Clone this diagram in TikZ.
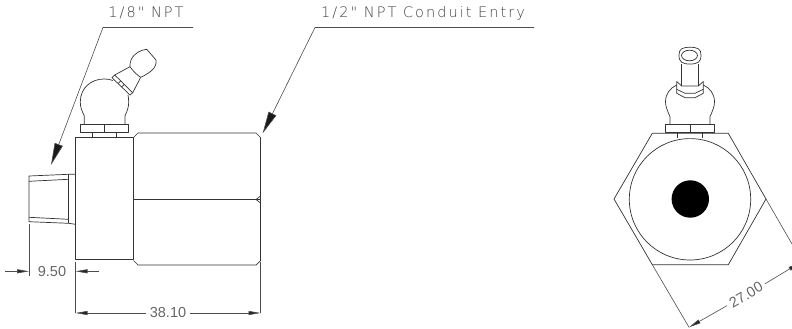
\documentclass[tikz,border=0pt]{standalone}
\usepackage{fontspec}
\setmainfont{Liberation Sans}
\newfontfamily\cadfont[LetterSpace=14]{DejaVu Sans ExtraLight}
\usetikzlibrary{arrows.meta}
\begin{document}
\begin{tikzpicture}[x=1pt,y=-1pt,
  part/.style={draw=black!80,line width=0.7pt,line join=round},
  thinline/.style={draw=black!70,line width=0.6pt},
  leadertip/.style={-{Triangle[length=22pt,width=8.5pt,fill=black!90]}},
  dimtip/.style={-{Triangle[length=12pt,width=4pt,fill=black!85]}},
  cadlabel/.style={text=black!75,font=\cadfont\fontsize{14.5}{16}\selectfont,inner sep=0pt},
  dimlabel/.style={text=black!60,font=\fontsize{14.5}{16}\selectfont,inner sep=0pt}]
\useasboundingbox (0,0) rectangle (792,329);
% side view
\draw[part] (75.5,137.5) rectangle (133.5,259.5);
\draw[part] (133.5,137.5)--(138,133)--(256,133)--(260.5,137.5)--(260.5,260.5)--(256,265)--(138,265)--(133.5,260.5);
\draw[part] (133.5,199.5)--(260.5,199.5);
\draw[part] (260.5,196)--(256,199.5)--(260.5,203);
% threaded port
\draw[part] (75.5,174.3)--(68.5,174.3)--(29,176)--(29,221.7)--(68.5,223.3)--(75.5,224.3);
\draw[part] (68.5,174.3)--(68.5,223.3);
\draw[part] (29,181.3)--(68.5,179.3);
\draw[part] (29,217.3)--(68.5,219.3);
% fitting on the side view
\draw[part] (80.3,124.3) rectangle (128.7,132.3);
\draw[part] (104.5,124.3)--(104.5,132.3);
\draw[part] (92.5,132.3)--(92.5,137.5);
\draw[part] (116.5,132.3)--(116.5,137.5);
\draw[part] (84.3,124.3)--(84.3,116) .. controls (81.5,110) and (80.3,107) .. (80.3,102)
  .. controls (80.3,88) and (91,79) .. (104,79) .. controls (107,79) and (110,79.3) .. (113,80.5);
\draw[part] (125,124.3)--(125,116) .. controls (127.5,110) and (128.7,107) .. (128.7,102)
  .. controls (128.7,99) and (128.3,97) .. (128,95);
\draw[part] (112,77.7)--(114.7,75)--(132.7,92.7)--(130,95)--cycle;
\draw[part] (118,83.5)--(120.7,81);
\draw[part] (121.5,87)--(124.2,84.5);
\draw[part] (114.7,75)--(130,66.7);
\draw[part] (132.7,92.7)--(140.7,77.3);
\draw[part] (130,66.7) .. controls (133,71) and (137,75) .. (140.7,77.3)
  .. controls (146,75) and (152,71) .. (154,68) .. controls (156,65) and (156.5,62) .. (156,60)
  --(146.7,49.3) .. controls (141,50) and (134,53) .. (131,60) .. controls (130,62) and (130,65) .. (130,66.7);
% end view
\draw[part] (652.3,133.3)--(728.3,133.3)--(766,199)--(728.3,264.7)--(652.3,264.7)--(614,199)--cycle;
\draw[part] (690,199.3) circle (60.7);
\fill[black] (690.3,199) circle (18.7);
% fitting on the end view
\draw[part] (665.7,124.3) rectangle (714.3,132.3);
\draw[part] (690,124.3)--(690,132.3);
\draw[part] (677.7,132.3)--(677.7,138);
\draw[part] (702.3,132.3)--(702.3,138);
\draw[part] (670,124.3)--(670,116.7) .. controls (667,110) and (665.5,106) .. (665.5,101.7)
  .. controls (665.5,94) and (670,88) .. (676.7,85);
\draw[part] (710,124.3)--(710,116.7) .. controls (713,110) and (714.5,106) .. (714.5,101.7)
  .. controls (714.5,94) and (710,88) .. (703.3,85);
\draw[part] (676.7,81.5)--(681.7,86)--(698.3,86)--(703.3,81.5);
\draw[part] (676.7,81.5)--(676.7,93.3)--(685,97.7)--(695,97.7)--(703.3,93.3)--(703.3,81.5);
\draw[part] (676.7,89.3)--(685,93.3)--(695,93.3)--(703.3,89.3);
\draw[part] (681.7,86)--(681.7,70) .. controls (681.7,67) and (681.7,66) .. (681.7,64);
\draw[part] (698.3,86)--(698.3,70) .. controls (698.3,67) and (698.3,66) .. (698.3,64);
\draw[part] (690,47.3) .. controls (682,47.3) and (679,49) .. (679,55) .. controls (679,62) and (682,64) .. (690,64)
  .. controls (698,64) and (701,62) .. (701,55) .. controls (701,49) and (698,47.3) .. (690,47.3)--cycle;
\draw[part] (689.5,55.5) ellipse (8 and 5.3);
% leaders
\node[cadlabel] (npt) at (146,13) {1/8" NPT};
\node[cadlabel] (conduit) at (423,13) {1/2" NPT Conduit Entry};
\coordinate (nptend) at (193,27.5);
\coordinate (nptknee) at (103,27.5);
\coordinate (nptport) at (51,165);
\coordinate (conduitend) at (534,27.5);
\coordinate (conduitknee) at (315,27.5);
\coordinate (conduitbody) at (262.7,133.3);
\draw[thinline,leadertip] (nptend)--(nptknee)--(nptport);
\draw[thinline,leadertip] (conduitend)--(conduitknee)--(conduitbody);
% dimensions
\coordinate (portleft) at (29,271.3);
\coordinate (blockleft) at (75.5,271.3);
\coordinate (blockbase) at (75.5,313);
\coordinate (bodybase) at (260.5,313);
\draw[thinline] (29,224)--(29,276);
\draw[thinline] (75.5,262)--(blockbase);
\draw[thinline] (260.5,262)--(bodybase);
\coordinate (portstub) at (5,271.3);
\coordinate (blockstub) at (99,271.3);
\draw[thinline,dimtip] (portstub)--(portleft);
\draw[thinline,dimtip] (blockstub)--(blockleft);
\node[dimlabel] (portdim) at (52,271.3) {9.50};
\node[dimlabel] (bodydim) at (168,313) {38.10};
\draw[thinline,dimtip] (bodydim.west)++(-4,0)--(blockbase);
\draw[thinline,dimtip] (bodydim.east)++(4,0)--(bodybase);
% across flats
\coordinate (flatleft) at (689,327.3);
\coordinate (flatright) at (800,262.7);
\draw[thinline] (652.3,264.7)--(flatleft);
\draw[thinline] (766,199)--(792,244);
\node[dimlabel,rotate=30] (flatdim) at (746,294.7) {27.00};
\draw[thinline,dimtip] (flatdim.west)++(-3,1.7)--(flatleft);
\draw[thinline,dimtip] (flatdim.east)++(3,-1.7)--(flatright);
\end{tikzpicture}
\end{document}
